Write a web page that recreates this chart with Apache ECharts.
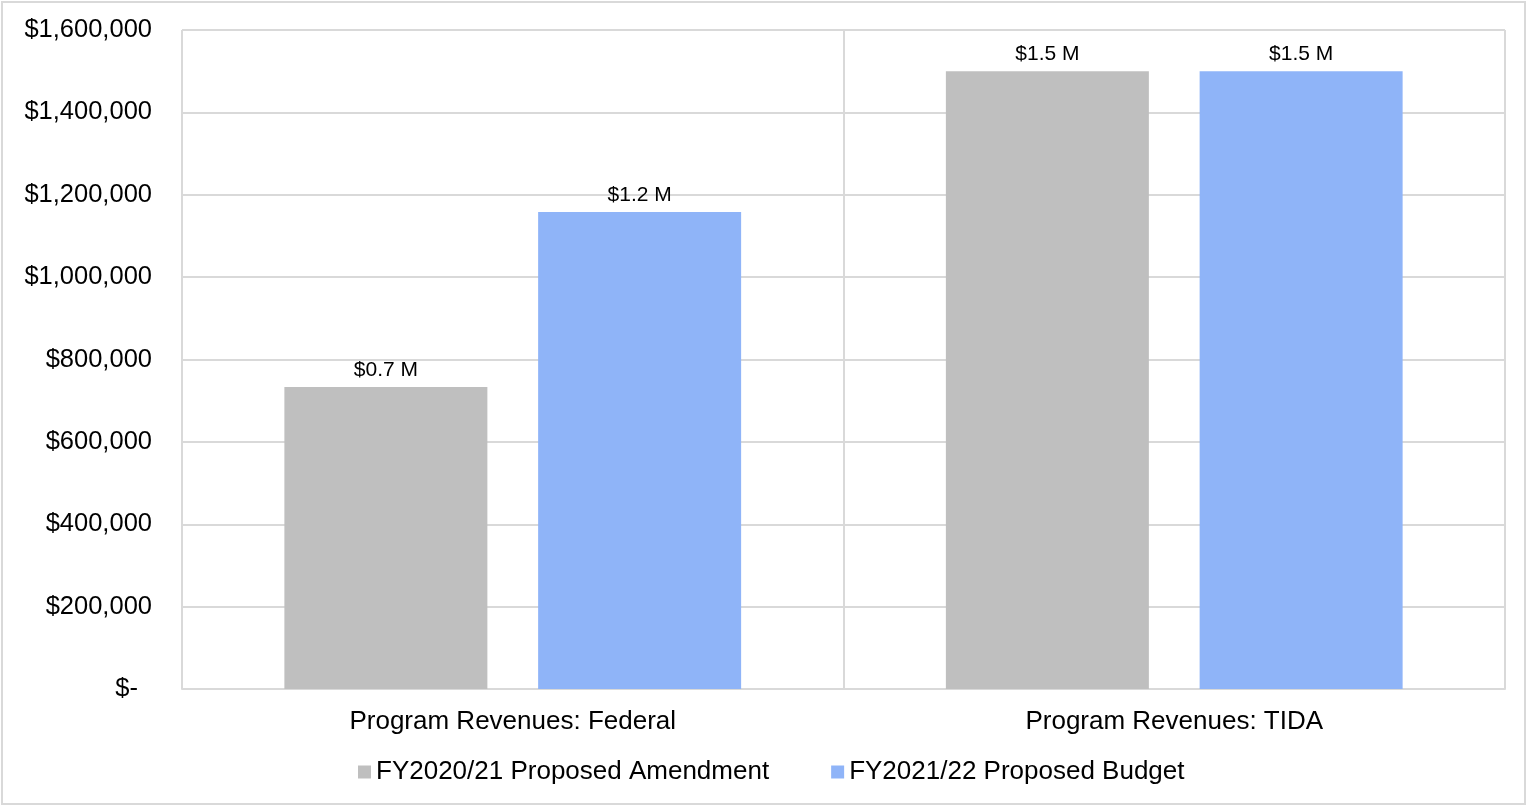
<!DOCTYPE html>
<html>
<head>
<meta charset="utf-8">
<title>Program Revenues</title>
<script src="https://cdn.jsdelivr.net/npm/echarts@6/dist/echarts.min.js"></script>
<style>
  html, body { margin: 0; padding: 0; background: #fff; }
  #wrap { position: relative; width: 1527px; height: 806px; }
  #chart { position: absolute; left: 0; top: 0; width: 1527px; height: 806px; }
  #frame { position: absolute; left: 1px; top: 1px; right: 1px; bottom: 1px; border: 2px solid #d9d9d9; pointer-events: none; }
</style>
</head>
<body>
<div id="wrap">
  <div id="chart"></div>
  <div id="frame"></div>
</div>
<script>
// 数据
const categories = ['Program Revenues: Federal', 'Program Revenues: TIDA'];
const seriesNames = ['FY2020/21 Proposed Amendment', 'FY2021/22 Proposed Budget'];
const amendmentValues = [733000, 1500000];
const budgetValues = [1158000, 1500000];
const yTicks = [0, 200000, 400000, 600000, 800000, 1000000, 1200000, 1400000, 1600000];

const FONT = '"Liberation Sans", Arial, sans-serif';
const GRID = '#d9d9d9';

const chart = echarts.init(document.getElementById('chart'), null, { renderer: 'canvas' });

const valueLabel = {
  show: true,
  position: 'top',
  distance: 6,
  color: '#000',
  fontFamily: FONT,
  fontSize: 21,
  formatter: p => '$' + (p.value / 1e6).toFixed(1) + ' M'
};

chart.setOption({
  animation: false,
  grid: { left: 182, right: 22, top: 30, bottom: 117 },
  legend: {
    data: seriesNames,
    bottom: 16,
    left: 353,
    itemWidth: 13,
    itemHeight: 13,
    itemGap: 62,
    icon: 'rect',
    textStyle: { color: '#000', fontFamily: FONT, fontSize: 26 }
  },
  xAxis: {
    type: 'category',
    data: categories,
    axisLine: { lineStyle: { color: GRID, width: 2 } },
    axisTick: { show: false },
    splitLine: { show: true, lineStyle: { color: GRID, width: 2 } },
    axisLabel: { color: '#000', fontFamily: FONT, fontSize: 26, margin: 20 }
  },
  yAxis: {
    type: 'value',
    min: yTicks[0],
    max: yTicks[yTicks.length - 1],
    interval: yTicks[1] - yTicks[0],
    axisLine: { show: false },
    axisTick: { show: false },
    splitLine: { lineStyle: { color: GRID, width: 2 } },
    axisLabel: {
      color: '#000',
      fontFamily: FONT,
      fontSize: 25.5,
      margin: 30,
      formatter: v => v === 0 ? '{z|$-}' : '$' + v.toLocaleString('en-US'),
      rich: {
        z: { color: '#000', fontFamily: FONT, fontSize: 25.5, padding: [0, 14, 0, 0] }
      }
    }
  },
  series: [
    {
      name: seriesNames[0],
      type: 'bar',
      data: amendmentValues,
      barWidth: 203,
      barGap: '25%',
      itemStyle: { color: '#bfbfbf' },
      label: valueLabel
    },
    {
      name: seriesNames[1],
      type: 'bar',
      data: budgetValues,
      barWidth: 203,
      itemStyle: { color: '#8fb4f8' },
      label: valueLabel
    }
  ]
});

window.addEventListener('resize', () => chart.resize());
</script>
</body>
</html>
